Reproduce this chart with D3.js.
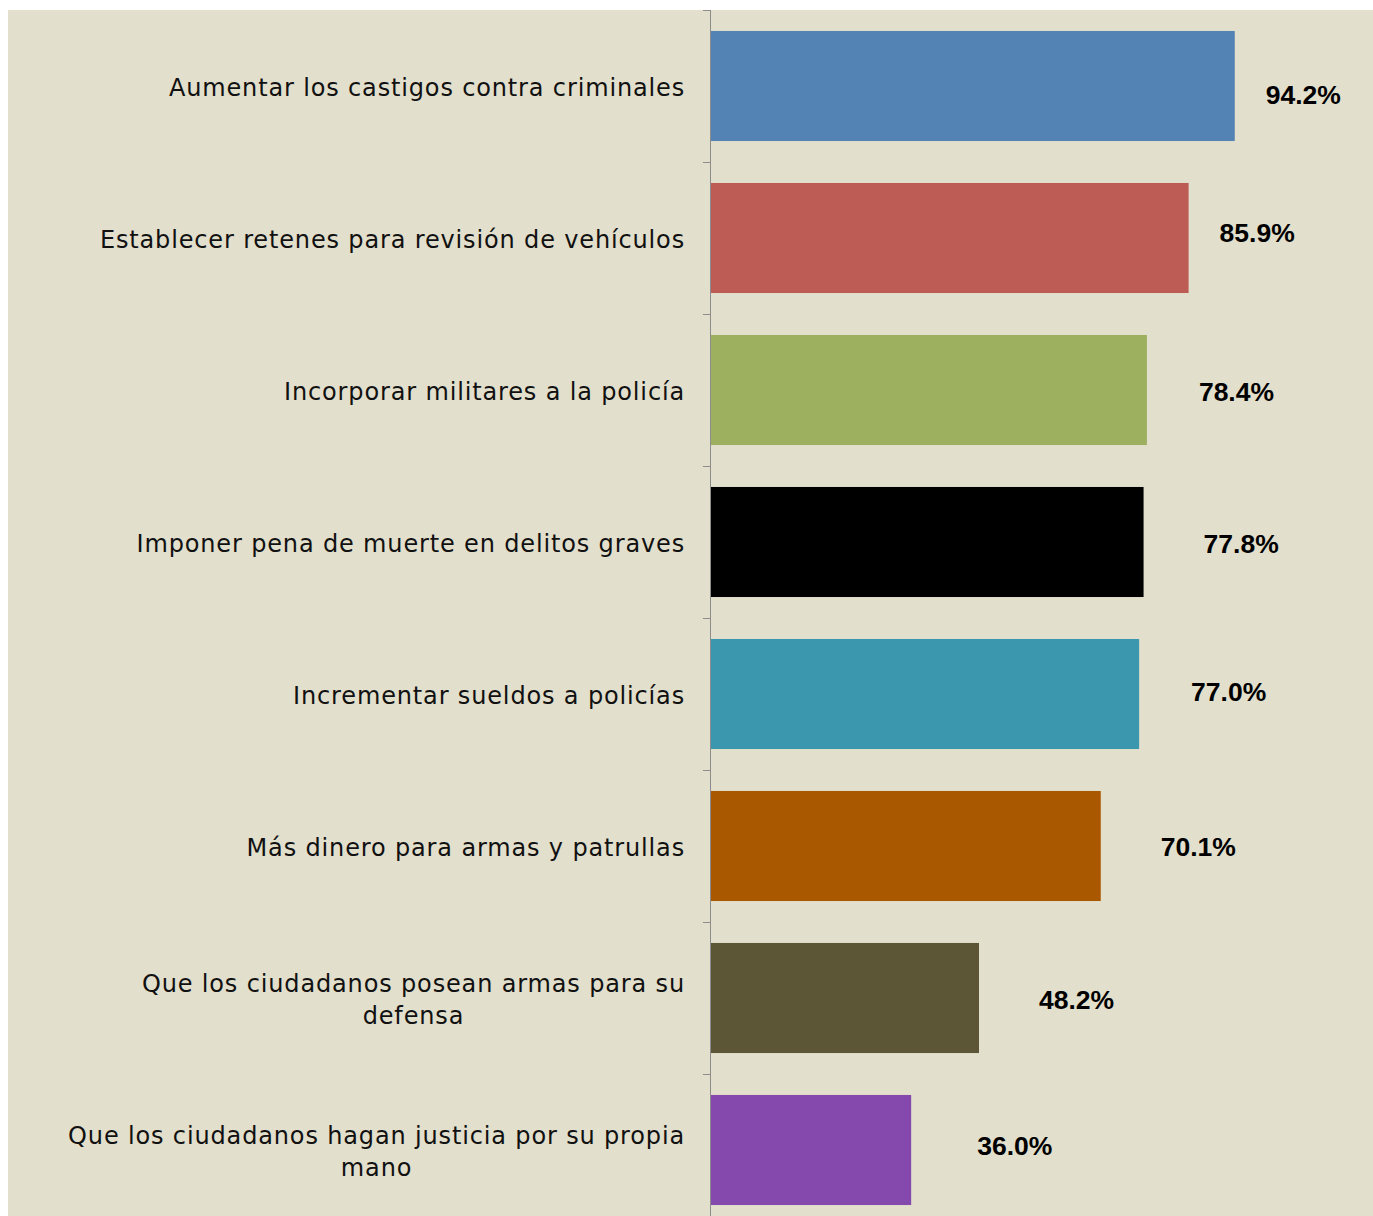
<!DOCTYPE html>
<html><head><meta charset="utf-8">
<script src="https://cdn.jsdelivr.net/npm/d3@7"></script>
<style>
html,body{margin:0;padding:0;background:#fff;}
svg{display:block;}
</style></head>
<body>
<svg id="chart" width="1373" height="1216"></svg>
<script>
// ---- data ----
const categories = [
  "Aumentar los castigos contra criminales",
  "Establecer retenes para revisión de vehículos",
  "Incorporar militares a la policía",
  "Imponer pena de muerte en delitos graves",
  "Incrementar sueldos a policías",
  "Más dinero para armas y patrullas",
  "Que los ciudadanos posean armas para su|defensa",
  "Que los ciudadanos hagan justicia por su propia|mano"
];
const values = [94.2, 85.9, 78.4, 77.8, 77.0, 70.1, 48.2, 36.0];
const valueLabels = ["94.2%", "85.9%", "78.4%", "77.8%", "77.0%", "70.1%", "48.2%", "36.0%"];

// ---- styles ----
const barColors = ["#5382B5", "#BC5C54", "#9CB060", "#000000", "#3A97AE", "#AA5800", "#5C5636", "#8548AD"];
// manual placement nudges of the value labels (px), as in the original
const labelNudge = [[31, 8], [31, -6], [52, 1], [60, 1], [52, -3], [60, 0], [60, 1], [66, -5]];

const svg = d3.select("#chart");
const W = 1373, H = 1216;
const bg = {x: 8, y: 10};
const plot = {left: 710, top: 10, right: 1267};
const step = 152;

svg.append("rect").attr("x", bg.x).attr("y", bg.y).attr("width", W - bg.x).attr("height", H - bg.y).attr("fill", "#E2DFCC");

const x = d3.scaleLinear().domain([0, 100]).range([plot.left + 1, plot.right]);
const y = d3.scaleBand().domain(d3.range(categories.length))
  .range([plot.top, plot.top + step * categories.length])
  .paddingInner(0.276).paddingOuter(0.138);

svg.selectAll("rect.bar").data(values).join("rect")
  .attr("class", "bar")
  .attr("x", x(0))
  .attr("y", (d, i) => y(i))
  .attr("width", d => x(d) - x(0))
  .attr("height", y.bandwidth())
  .attr("fill", (d, i) => barColors[i]);

// axis line + ticks at band boundaries
const axisColor = "#8C8C8C";
svg.append("line").attr("x1", plot.left + 0.5).attr("x2", plot.left + 0.5)
  .attr("y1", plot.top).attr("y2", H).attr("stroke", axisColor).attr("stroke-width", 1);
const boundaries = d3.range(categories.length + 1).map(i => plot.top + i * step);
svg.selectAll("line.tick").data(boundaries).join("line")
  .attr("class", "tick")
  .attr("x1", plot.left - 7).attr("x2", plot.left)
  .attr("y1", d => Math.round(d) + 0.5).attr("y2", d => Math.round(d) + 0.5)
  .attr("stroke", axisColor).attr("stroke-width", 1);

// category labels
const catFont = "'Century Gothic', 'DejaVu Sans', sans-serif";
const catSize = 24;
const lineH = 32;
categories.forEach((c, i) => {
  const lines = c.split("|");
  const cy = y(i) + y.bandwidth() / 2 + 2;
  const g = svg.append("g");
  const t = g.append("text")
    .attr("font-family", catFont).attr("font-size", catSize)
    .attr("letter-spacing", 0.85)
    .attr("fill", "#111").attr("text-anchor", "middle");
  lines.forEach((ln, k) => {
    t.append("tspan").attr("x", 0)
      .attr("y", cy + (k - (lines.length - 1) / 2) * lineH)
      .attr("dy", "0.35em").text(ln);
  });
  const bb = t.node().getBBox();
  g.attr("transform", `translate(${685 - (bb.x + bb.width)},0)`);
});

// value labels
svg.selectAll("text.val").data(values).join("text")
  .attr("class", "val")
  .attr("x", (d, i) => x(d) + labelNudge[i][0])
  .attr("y", (d, i) => y(i) + y.bandwidth() / 2 + labelNudge[i][1])
  .attr("dy", "0.36em")
  .attr("font-family", "'Liberation Sans', Arial, sans-serif")
  .attr("font-weight", "bold").attr("font-size", 26.5)
  .attr("fill", "#000")
  .text((d, i) => valueLabels[i]);
</script>
</body></html>
